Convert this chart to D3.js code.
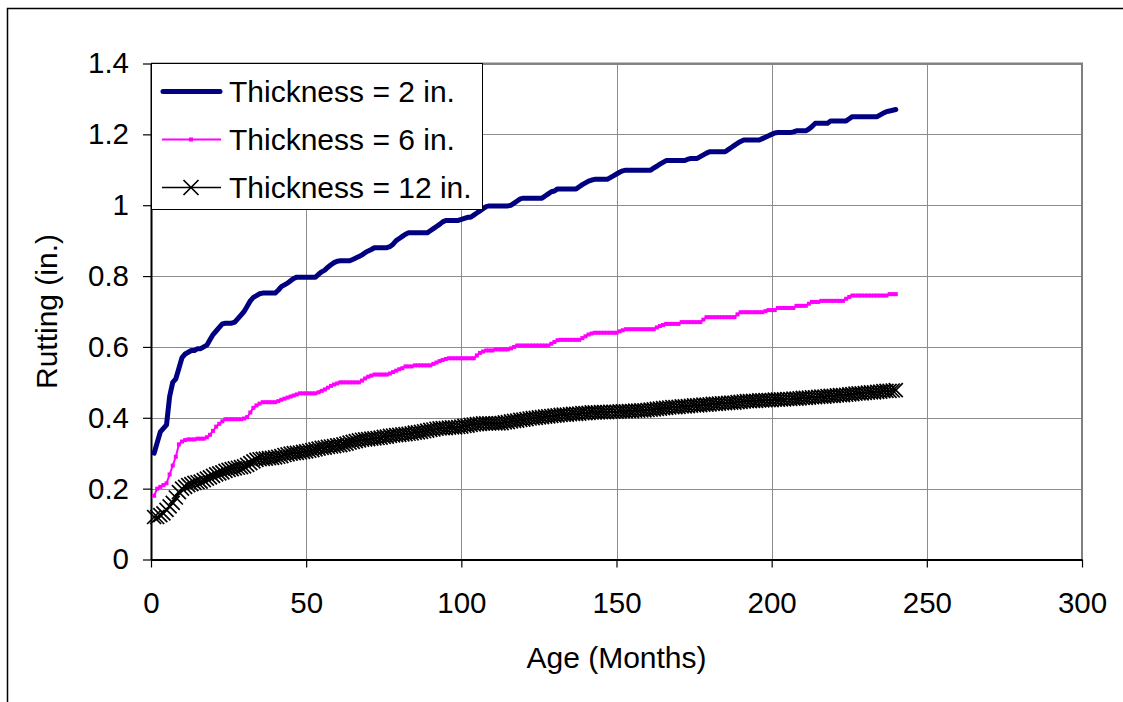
<!DOCTYPE html>
<html>
<head>
<meta charset="utf-8">
<title>Rutting vs age</title>
<style>
  body { margin: 0; background: #fff; }
  text { font-family: "Liberation Sans", Arial, sans-serif; fill: #000; }
</style>
</head>
<body>
<script src="https://d3js.org/d3.v7.min.js"></script>
<script>
// months 1..240
var months = d3.range(1, 241);

var thick2 = [
  0.30,0.33,0.36,0.37,0.38,0.46,0.50,0.51,0.54,0.57,
  0.58,0.585,0.59,0.59,0.595,0.595,0.60,0.605,0.62,0.635,
  0.645,0.655,0.665,0.667,0.667,0.667,0.67,0.68,0.69,0.70,
  0.715,0.73,0.74,0.745,0.75,0.752,0.752,0.752,0.752,0.752,
  0.76,0.77,0.775,0.78,0.787,0.793,0.797,0.797,0.797,0.797,
  0.797,0.797,0.797,0.805,0.812,0.817,0.825,0.832,0.838,0.842,
  0.843,0.843,0.843,0.843,0.847,0.851,0.855,0.86,0.866,0.871,
  0.875,0.88,0.88,0.88,0.88,0.88,0.883,0.89,0.90,0.906,
  0.912,0.918,0.922,0.922,0.922,0.922,0.922,0.922,0.922,0.928,
  0.934,0.94,0.946,0.953,0.957,0.957,0.957,0.957,0.957,0.96,
  0.963,0.966,0.966,0.972,0.978,0.984,0.99,0.996,0.998,0.998,
  0.998,0.998,0.998,0.998,0.998,1.0,1.006,1.012,1.018,1.02,
  1.02,1.02,1.02,1.02,1.02,1.02,1.026,1.032,1.038,1.04,
  1.046,1.046,1.046,1.046,1.046,1.046,1.046,1.052,1.058,1.063,
  1.068,1.071,1.073,1.073,1.073,1.073,1.073,1.078,1.083,1.088,
  1.093,1.097,1.099,1.099,1.099,1.099,1.099,1.099,1.099,1.099,
  1.099,1.105,1.11,1.116,1.121,1.126,1.126,1.126,1.126,1.126,
  1.126,1.126,1.13,1.132,1.132,1.132,1.137,1.142,1.147,1.151,
  1.151,1.151,1.151,1.151,1.151,1.157,1.163,1.169,1.175,1.18,
  1.184,1.184,1.184,1.184,1.184,1.184,1.188,1.192,1.196,1.20,
  1.204,1.205,1.205,1.205,1.205,1.205,1.207,1.21,1.21,1.21,
  1.21,1.215,1.222,1.231,1.231,1.231,1.231,1.231,1.238,1.238,
  1.238,1.238,1.238,1.238,1.244,1.25,1.25,1.25,1.25,1.25,
  1.25,1.25,1.25,1.25,1.255,1.26,1.264,1.266,1.268,1.27
];

var thick6 = [
  0.18,0.20,0.205,0.21,0.215,0.24,0.265,0.29,0.325,0.333,
  0.337,0.339,0.339,0.339,0.341,0.341,0.341,0.345,0.352,0.363,
  0.375,0.383,0.39,0.396,0.396,0.396,0.396,0.396,0.396,0.398,
  0.402,0.415,0.428,0.435,0.44,0.444,0.444,0.444,0.444,0.444,
  0.447,0.451,0.454,0.457,0.46,0.463,0.466,0.469,0.469,0.469,
  0.469,0.469,0.469,0.472,0.476,0.48,0.485,0.49,0.494,0.497,
  0.50,0.50,0.50,0.50,0.50,0.50,0.50,0.505,0.511,0.516,
  0.519,0.522,0.522,0.522,0.522,0.522,0.525,0.529,0.533,0.537,
  0.54,0.545,0.545,0.545,0.548,0.548,0.548,0.548,0.548,0.548,
  0.552,0.556,0.56,0.563,0.566,0.568,0.568,0.568,0.568,0.568,
  0.568,0.568,0.568,0.568,0.576,0.583,0.587,0.59,0.59,0.59,
  0.593,0.593,0.593,0.593,0.593,0.596,0.60,0.604,0.604,0.604,
  0.604,0.604,0.604,0.604,0.604,0.604,0.604,0.604,0.609,0.614,
  0.619,0.62,0.62,0.62,0.62,0.62,0.62,0.62,0.625,0.63,
  0.635,0.638,0.64,0.64,0.64,0.64,0.64,0.64,0.64,0.64,
  0.644,0.647,0.65,0.65,0.65,0.65,0.65,0.65,0.65,0.65,
  0.65,0.65,0.655,0.659,0.662,0.665,0.665,0.665,0.665,0.665,
  0.67,0.67,0.67,0.67,0.67,0.67,0.67,0.677,0.684,0.684,
  0.684,0.684,0.684,0.684,0.684,0.684,0.684,0.684,0.692,0.698,
  0.698,0.698,0.698,0.698,0.698,0.698,0.698,0.701,0.704,0.704,
  0.704,0.71,0.71,0.71,0.71,0.71,0.71,0.716,0.716,0.716,
  0.716,0.722,0.727,0.727,0.727,0.73,0.73,0.73,0.73,0.73,
  0.73,0.73,0.73,0.736,0.741,0.745,0.745,0.745,0.745,0.745,
  0.745,0.745,0.745,0.745,0.745,0.745,0.745,0.749,0.749,0.749
];

var thick12 = [
  0.12,0.12,0.125,0.13,0.14,0.15,0.16,0.175,0.19,0.20,
  0.205,0.21,0.213,0.216,0.218,0.22,0.224,0.228,0.232,0.236,
  0.24,0.243,0.246,0.25,0.253,0.255,0.257,0.259,0.261,0.263,
  0.267,0.272,0.277,0.281,0.283,0.284,0.285,0.286,0.287,0.288,
  0.29,0.292,0.295,0.297,0.299,0.30,0.301,0.302,0.304,0.305,
  0.307,0.309,0.311,0.313,0.315,0.316,0.318,0.319,0.32,0.322,
  0.323,0.325,0.327,0.33,0.332,0.334,0.336,0.338,0.339,0.34,
  0.341,0.342,0.343,0.344,0.346,0.347,0.349,0.35,0.351,0.352,
  0.353,0.354,0.355,0.356,0.358,0.359,0.36,0.362,0.364,0.366,
  0.367,0.369,0.37,0.371,0.371,0.372,0.373,0.373,0.374,0.375,
  0.377,0.378,0.38,0.381,0.382,0.383,0.384,0.384,0.384,0.384,
  0.384,0.384,0.385,0.387,0.388,0.39,0.391,0.392,0.394,0.395,
  0.396,0.398,0.399,0.40,0.401,0.402,0.403,0.404,0.405,0.406,
  0.407,0.408,0.409,0.409,0.41,0.411,0.411,0.412,0.413,0.413,
  0.414,0.415,0.415,0.415,0.416,0.416,0.416,0.417,0.417,0.417,
  0.418,0.418,0.418,0.419,0.419,0.42,0.42,0.421,0.421,0.422,
  0.423,0.424,0.425,0.426,0.427,0.428,0.429,0.43,0.43,0.431,
  0.432,0.432,0.433,0.434,0.435,0.435,0.436,0.437,0.437,0.438,
  0.439,0.439,0.44,0.441,0.441,0.442,0.443,0.443,0.444,0.445,
  0.446,0.447,0.447,0.448,0.448,0.449,0.449,0.45,0.45,0.45,
  0.451,0.451,0.452,0.452,0.453,0.453,0.454,0.454,0.455,0.456,
  0.456,0.457,0.458,0.458,0.459,0.46,0.46,0.461,0.462,0.462,
  0.463,0.464,0.464,0.465,0.466,0.467,0.468,0.469,0.469,0.47,
  0.471,0.472,0.472,0.473,0.474,0.475,0.476,0.476,0.477,0.478
];

var seriesNames = ["Thickness = 2 in.", "Thickness = 6 in.", "Thickness = 12 in."];
var xTicks = [0, 50, 100, 150, 200, 250, 300];
var yTicks = [0, 0.2, 0.4, 0.6, 0.8, 1, 1.2, 1.4];

var width = 1123, height = 702;
var plotLeft = 151, plotRight = 1082, plotTop = 63.5, plotBottom = 559.5;

var svg = d3.select("body").append("svg")
    .attr("width", width)
    .attr("height", height);

// outer chart frame (right/bottom edges fall outside the picture)
svg.append("rect")
    .attr("x", 7.5).attr("y", 8.5)
    .attr("width", 1140).attr("height", 720)
    .attr("fill", "#fff")
    .attr("stroke", "#000")
    .attr("stroke-width", 1.5);

var x = d3.scaleLinear().domain([0, 300]).range([plotLeft, plotRight]);
var y = d3.scaleLinear().domain([0, 1.4]).range([plotBottom, plotTop]);

// gridlines
svg.append("g").selectAll("line")
    .data(yTicks.slice(1))
    .enter().append("line")
    .attr("x1", plotLeft).attr("x2", plotRight)
    .attr("y1", function(d){ return Math.round(y(d)) + 0.5; })
    .attr("y2", function(d){ return Math.round(y(d)) + 0.5; })
    .attr("stroke", "#8c8c8c").attr("stroke-width", 1);

svg.append("g").selectAll("line")
    .data(xTicks.slice(1))
    .enter().append("line")
    .attr("y1", plotTop).attr("y2", plotBottom)
    .attr("x1", function(d){ return Math.round(x(d)) + 0.5; })
    .attr("x2", function(d){ return Math.round(x(d)) + 0.5; })
    .attr("stroke", "#8c8c8c").attr("stroke-width", 1);

// plot area border top/right
svg.append("path")
    .attr("d", "M" + plotLeft + "," + plotTop + "H" + plotRight + "V" + plotBottom)
    .attr("fill", "none")
    .attr("stroke", "#808080")
    .attr("stroke-width", 2);

// axes
var yAxis = d3.axisLeft(y).tickValues(yTicks)
    .tickFormat(function(d){ return String(+d.toFixed(1)); })
    .tickSize(8).tickSizeOuter(0).tickPadding(14);
var gy = svg.append("g")
    .attr("transform", "translate(" + plotLeft + ",0)")
    .call(yAxis);

var xAxis = d3.axisBottom(x).tickValues(xTicks)
    .tickSize(8).tickSizeOuter(0).tickPadding(25);
var gx = svg.append("g")
    .attr("transform", "translate(0," + plotBottom + ")")
    .call(xAxis);

[gx, gy].forEach(function(g){
    g.select(".domain").attr("stroke", "#000").attr("stroke-width", 2);
    g.selectAll(".tick line").attr("stroke", "#000").attr("stroke-width", 1.2);
    g.selectAll("text")
        .attr("font-family", "Liberation Sans, Arial, sans-serif")
        .attr("font-size", 29.5)
        .attr("fill", "#000");
});

// axis titles
svg.append("text")
    .attr("x", (plotLeft + plotRight) / 2)
    .attr("y", 668)
    .attr("text-anchor", "middle")
    .attr("font-size", 30)
    .text("Age (Months)");

svg.append("text")
    .attr("transform", "translate(57," + ((plotTop + plotBottom) / 2) + ") rotate(-90)")
    .attr("text-anchor", "middle")
    .attr("font-size", 30)
    .text("Rutting (in.)");

// series
var line = d3.line()
    .x(function(d){ return x(d[0]); })
    .y(function(d){ return y(d[1]); });

var d2 = months.map(function(m, i){ return [m, thick2[i]]; });
var d6 = months.map(function(m, i){ return [m, thick6[i]]; });
var d12 = months.map(function(m, i){ return [m, thick12[i]]; });

// 12 in.: thin black line with X markers
svg.append("path")
    .datum(d12)
    .attr("d", line)
    .attr("fill", "none")
    .attr("stroke", "#000")
    .attr("stroke-width", 1.5);

var xMark = function(s){
    return "M" + (-s) + "," + (-s) + "L" + s + "," + s + "M" + (-s) + "," + s + "L" + s + "," + (-s);
};

svg.append("g").selectAll("path")
    .data(d12)
    .enter().append("path")
    .attr("transform", function(d){ return "translate(" + x(d[0]) + "," + y(d[1]) + ")"; })
    .attr("d", xMark(7))
    .attr("fill", "none")
    .attr("stroke", "#000")
    .attr("stroke-width", 1.7);

// 6 in.: magenta line with small square markers
svg.append("path")
    .datum(d6)
    .attr("d", line)
    .attr("fill", "none")
    .attr("stroke", "#ff00ff")
    .attr("stroke-width", 2);

svg.append("g").selectAll("rect")
    .data(d6)
    .enter().append("rect")
    .attr("x", function(d){ return x(d[0]) - 2; })
    .attr("y", function(d){ return y(d[1]) - 2; })
    .attr("width", 4).attr("height", 4)
    .attr("fill", "#ff00ff");

// 2 in.: thick navy line
svg.append("path")
    .datum(d2)
    .attr("d", line)
    .attr("fill", "none")
    .attr("stroke", "#000080")
    .attr("stroke-width", 5)
    .attr("stroke-linejoin", "round")
    .attr("stroke-linecap", "round");

// legend
var legend = svg.append("g");
legend.append("rect")
    .attr("x", 151.5).attr("y", 63.5)
    .attr("width", 331).attr("height", 146)
    .attr("fill", "#fff")
    .attr("stroke", "#000")
    .attr("stroke-width", 1);

var legendY = [91.5, 139.5, 187.5];

legend.append("line")
    .attr("x1", 163).attr("x2", 220)
    .attr("y1", legendY[0]).attr("y2", legendY[0])
    .attr("stroke", "#000080").attr("stroke-width", 5)
    .attr("stroke-linecap", "round");

legend.append("line")
    .attr("x1", 162).attr("x2", 221)
    .attr("y1", legendY[1]).attr("y2", legendY[1])
    .attr("stroke", "#ff00ff").attr("stroke-width", 2);
legend.append("rect")
    .attr("x", 189).attr("y", legendY[1] - 2)
    .attr("width", 4).attr("height", 4)
    .attr("fill", "#ff00ff");

legend.append("line")
    .attr("x1", 162).attr("x2", 221)
    .attr("y1", legendY[2]).attr("y2", legendY[2])
    .attr("stroke", "#000").attr("stroke-width", 1.5);
legend.append("path")
    .attr("transform", "translate(191," + legendY[2] + ")")
    .attr("d", xMark(7.5))
    .attr("fill", "none")
    .attr("stroke", "#000")
    .attr("stroke-width", 1.7);

legend.selectAll("text.lbl")
    .data(seriesNames)
    .enter().append("text")
    .attr("class", "lbl")
    .attr("x", 229)
    .attr("y", function(d, i){ return legendY[i] + 10; })
    .attr("font-size", 30)
    .text(function(d){ return d; });
</script>
</body>
</html>
